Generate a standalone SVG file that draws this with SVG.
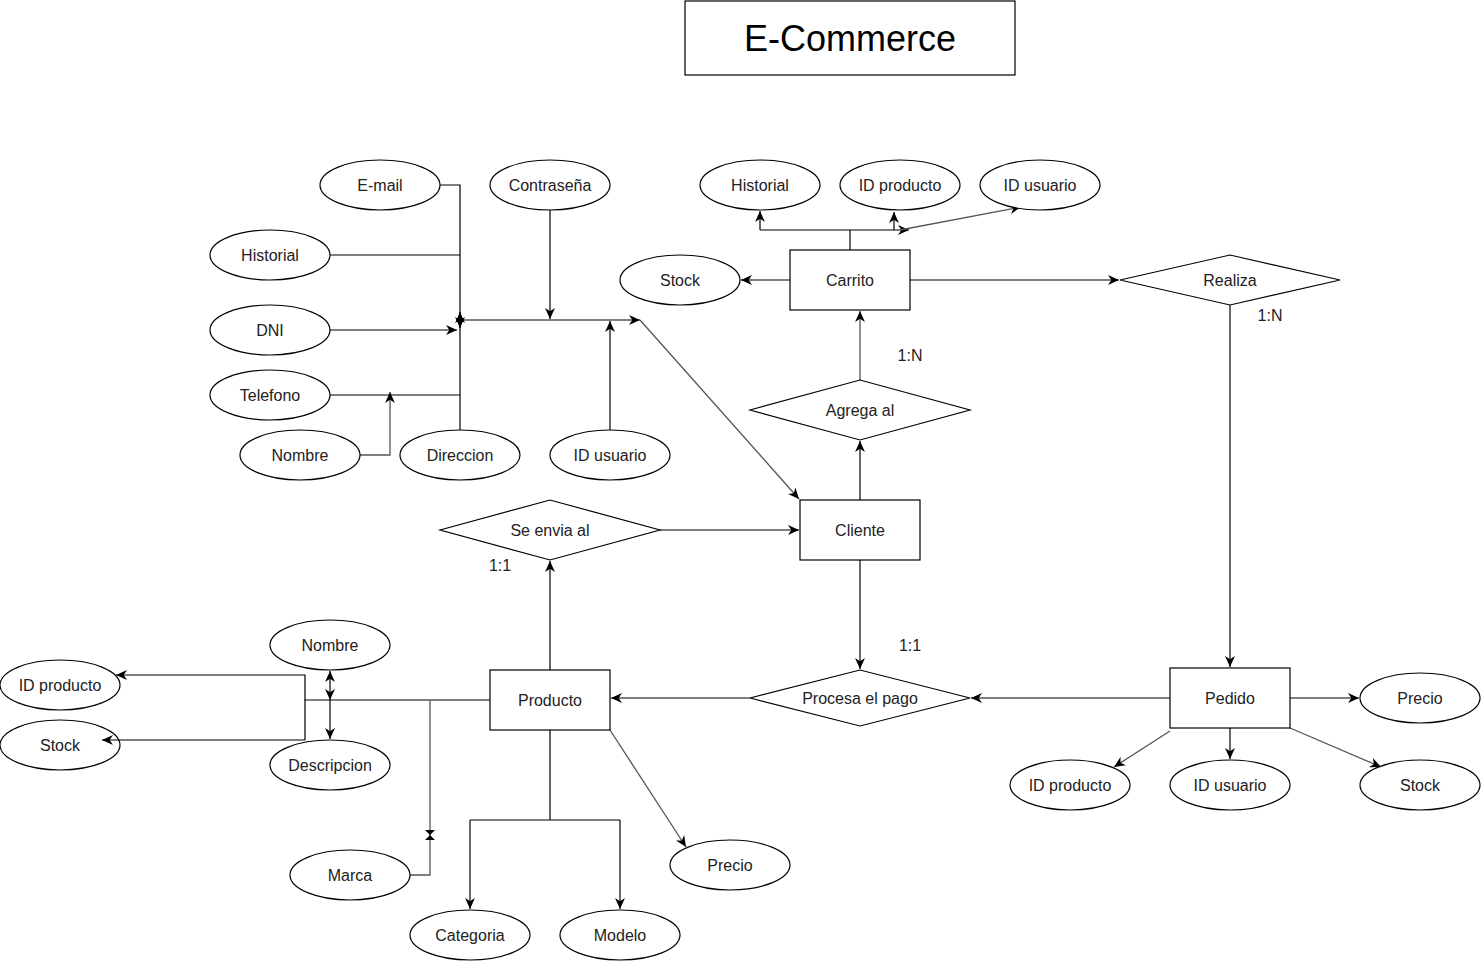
<svg xmlns="http://www.w3.org/2000/svg" width="1481" height="961" viewBox="0 0 1481 961">
<style>
.s{fill:#fff;stroke:#000;stroke-width:1.2}
.t{font-family:"Liberation Sans",Arial,sans-serif;font-size:16px;fill:#222;text-anchor:middle;dominant-baseline:central}
.c{fill:none;stroke:#000;stroke-width:1.2}
.g{fill:none;stroke:#555;stroke-width:1.3}
.a{marker-end:url(#ar)}
</style>
<defs>
<marker id="ar" viewBox="0 0 10 10" refX="10" refY="5" markerWidth="11" markerHeight="11" markerUnits="userSpaceOnUse" orient="auto-start-reverse">
<path d="M0,0.5 L10,5 L0,9.5 L3,5 z" fill="#000"/>
</marker>
</defs>
<rect width="1481" height="961" fill="#fff"/>

<g id="connectors">
<path class="c a" d="M440,185 H460 V328"/>
<path class="c a" d="M460,430 V312"/>
<path class="c" d="M330,255 H460"/>
<path class="c a" d="M330,330 H457"/>
<path class="c" d="M330,395 H460"/>
<path class="g a" d="M360,455 H390 V392"/>
<path class="c a" d="M550,210 V319"/>
<path class="c a" d="M460,320 H640"/>
<path class="c a" d="M610,430 V321"/>
<path class="g a" d="M640,320 L799,499"/>
<path class="c" d="M850,250 V230"/>
<path class="c a" d="M760,230 H909"/>
<path class="c a" d="M760,230 V211"/>
<path class="c a" d="M894,230 V212"/>
<path class="g a" d="M900,230 L1021,207"/>
<path class="c a" d="M790,280 H741"/>
<path class="c a" d="M910,280 H1119"/>
<path class="c a" d="M1230,305 V667"/>
<path class="c a" d="M860,500 V441"/>
<path class="g a" d="M860,380 V311"/>
<path class="c a" d="M660,530 H799"/>
<path class="c a" d="M550,670 V561"/>
<path class="c a" d="M860,560 V669"/>
<path class="g a" d="M750,698 H611"/>
<path class="g a" d="M1170,698 H971"/>
<path class="g a" d="M1290,698 H1359"/>
<path class="g a" d="M1170,731 L1114,767"/>
<path class="c a" d="M1230,728 V759"/>
<path class="g a" d="M1290,728 L1381,767"/>
<path class="c" d="M490,700 H305 V740"/>
<path class="c a" d="M305,700 V675 H116"/>
<path class="c a" d="M305,740 H102"/>
<path class="c a" d="M330,700 V671" style="marker-start:url(#ar)"/>
<path class="c a" d="M330,700 V739"/>
<path class="g" d="M410,875 H430 V700"/>
<path d="M425,830 L435,830 L430,835 Z M425,840 L435,840 L430,835 Z" fill="#000"/>
<path class="c" d="M550,730 V820 M470,820 H620"/>
<path class="c a" d="M470,820 V909"/>
<path class="c a" d="M620,820 V909"/>
<path class="g a" d="M610,730 L686,847"/>
</g>

<g id="title"><rect class="s" x="685" y="1" width="330" height="74"/><text class="t" x="850" y="38" style="font-size:36px;fill:#000">E-Commerce</text></g>

<g id="carrito"><rect class="s" x="790" y="250" width="120" height="60"/><text class="t" x="850" y="280">Carrito</text></g>
<g id="cliente"><rect class="s" x="800" y="500" width="120" height="60"/><text class="t" x="860" y="530">Cliente</text></g>
<g id="producto"><rect class="s" x="490" y="670" width="120" height="60"/><text class="t" x="550" y="700">Producto</text></g>
<g id="pedido"><rect class="s" x="1170" y="668" width="120" height="60"/><text class="t" x="1230" y="698">Pedido</text></g>

<g id="realiza"><path class="s" d="M1120,280 L1230,255 L1340,280 L1230,305 Z"/><text class="t" x="1230" y="280">Realiza</text></g>
<g id="agrega"><path class="s" d="M750,410 L860,380 L970,410 L860,440 Z"/><text class="t" x="860" y="410">Agrega al</text></g>
<g id="seenvia"><path class="s" d="M440,530 L550,500 L660,530 L550,560 Z"/><text class="t" x="550" y="530">Se envia al</text></g>
<g id="procesa"><path class="s" d="M750,698 L860,670 L970,698 L860,726 Z"/><text class="t" x="860" y="698">Procesa el pago</text></g>

<g id="cl-email"><ellipse class="s" cx="380" cy="185" rx="60" ry="25"/><text class="t" x="380" y="185">E-mail</text></g>
<g id="cl-pass"><ellipse class="s" cx="550" cy="185" rx="60" ry="25"/><text class="t" x="550" y="185">Contraseña</text></g>
<g id="cl-hist"><ellipse class="s" cx="270" cy="255" rx="60" ry="25"/><text class="t" x="270" y="255">Historial</text></g>
<g id="cl-dni"><ellipse class="s" cx="270" cy="330" rx="60" ry="25"/><text class="t" x="270" y="330">DNI</text></g>
<g id="cl-tel"><ellipse class="s" cx="270" cy="395" rx="60" ry="25"/><text class="t" x="270" y="395">Telefono</text></g>
<g id="cl-nombre"><ellipse class="s" cx="300" cy="455" rx="60" ry="25"/><text class="t" x="300" y="455">Nombre</text></g>
<g id="cl-dir"><ellipse class="s" cx="460" cy="455" rx="60" ry="25"/><text class="t" x="460" y="455">Direccion</text></g>
<g id="cl-idu"><ellipse class="s" cx="610" cy="455" rx="60" ry="25"/><text class="t" x="610" y="455">ID usuario</text></g>

<g id="ca-hist"><ellipse class="s" cx="760" cy="185" rx="60" ry="25"/><text class="t" x="760" y="185">Historial</text></g>
<g id="ca-idp"><ellipse class="s" cx="900" cy="185" rx="60" ry="25"/><text class="t" x="900" y="185">ID producto</text></g>
<g id="ca-idu"><ellipse class="s" cx="1040" cy="185" rx="60" ry="25"/><text class="t" x="1040" y="185">ID usuario</text></g>
<g id="ca-stock"><ellipse class="s" cx="680" cy="280" rx="60" ry="25"/><text class="t" x="680" y="280">Stock</text></g>

<g id="pe-precio"><ellipse class="s" cx="1420" cy="698" rx="60" ry="25"/><text class="t" x="1420" y="698">Precio</text></g>
<g id="pe-idp"><ellipse class="s" cx="1070" cy="785" rx="60" ry="25"/><text class="t" x="1070" y="785">ID producto</text></g>
<g id="pe-idu"><ellipse class="s" cx="1230" cy="785" rx="60" ry="25"/><text class="t" x="1230" y="785">ID usuario</text></g>
<g id="pe-stock"><ellipse class="s" cx="1420" cy="785" rx="60" ry="25"/><text class="t" x="1420" y="785">Stock</text></g>

<g id="pr-nombre"><ellipse class="s" cx="330" cy="645" rx="60" ry="25"/><text class="t" x="330" y="645">Nombre</text></g>
<g id="pr-idp"><ellipse class="s" cx="60" cy="685" rx="60" ry="25"/><text class="t" x="60" y="685">ID producto</text></g>
<g id="pr-stock"><ellipse class="s" cx="60" cy="745" rx="60" ry="25" style="fill:none"/><text class="t" x="60" y="745">Stock</text></g>
<g id="pr-desc"><ellipse class="s" cx="330" cy="765" rx="60" ry="25"/><text class="t" x="330" y="765">Descripcion</text></g>
<g id="pr-marca"><ellipse class="s" cx="350" cy="875" rx="60" ry="25"/><text class="t" x="350" y="875">Marca</text></g>
<g id="pr-precio"><ellipse class="s" cx="730" cy="865" rx="60" ry="25"/><text class="t" x="730" y="865">Precio</text></g>
<g id="pr-cat"><ellipse class="s" cx="470" cy="935" rx="60" ry="25"/><text class="t" x="470" y="935">Categoria</text></g>
<g id="pr-modelo"><ellipse class="s" cx="620" cy="935" rx="60" ry="25"/><text class="t" x="620" y="935">Modelo</text></g>

<g id="labels">
<text class="t" x="910" y="355">1:N</text>
<text class="t" x="500" y="565">1:1</text>
<text class="t" x="910" y="645">1:1</text>
<text class="t" x="1270" y="315">1:N</text>
</g>
</svg>
